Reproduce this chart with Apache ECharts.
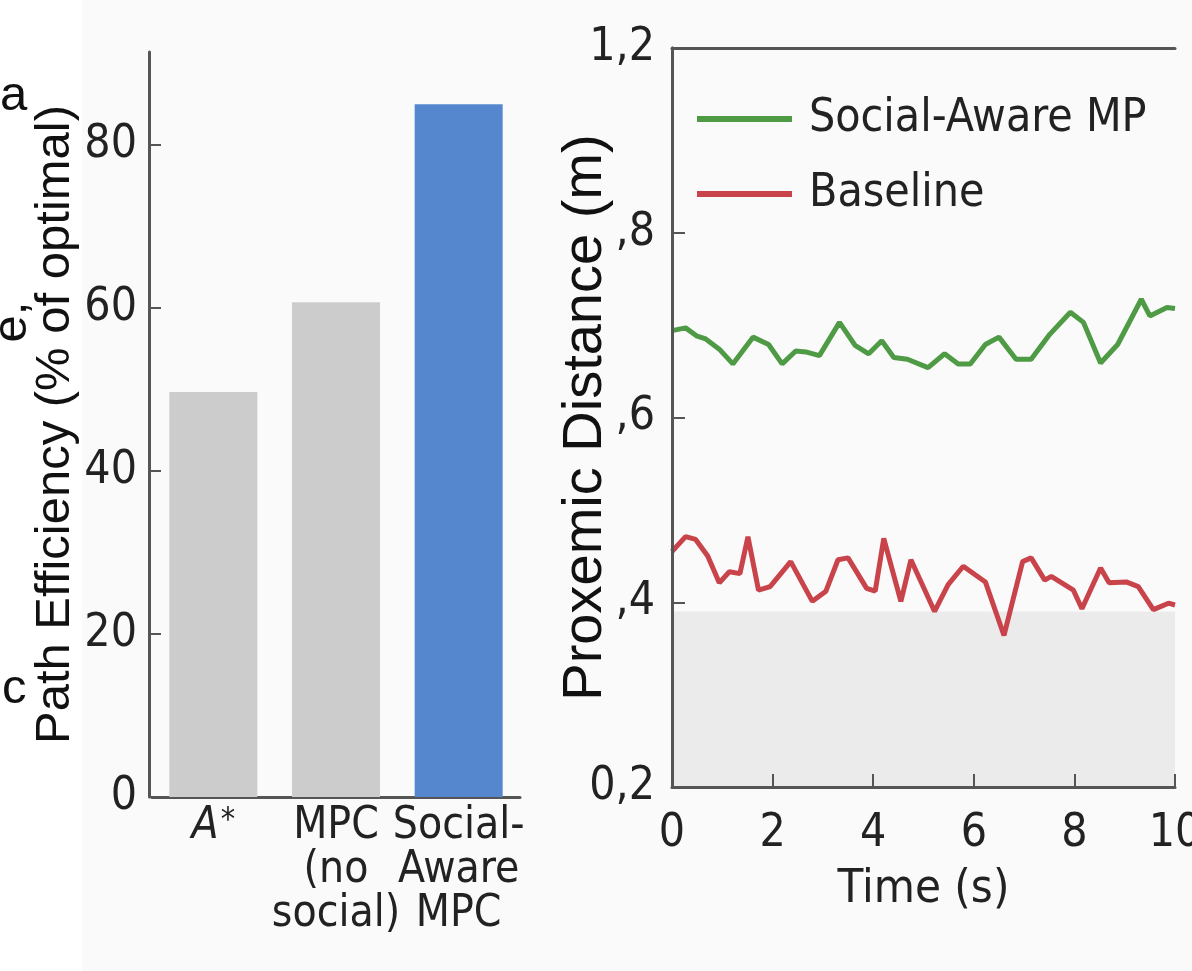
<!DOCTYPE html>
<html>
<head>
<meta charset="utf-8">
<script src="https://cdn.jsdelivr.net/npm/echarts@6/dist/echarts.min.js"></script>
<style>
html,body{margin:0;padding:0;background:#ffffff;}
#chart{width:1192px;height:971px;}
</style>
</head>
<body>
<div id="chart"></div>
<script>
// ---- Data ----
const barCategories = ['A*', 'MPC\n(no\nsocial)', 'Social-\nAware\nMPC'];
const barValues = [49.7, 60.7, 85.0];
const barColors = ['#cccccc', '#cccccc', '#5487ce'];
const barTickValues = [0, 20, 40, 60, 80];

const socialTime = [0, 0.27, 0.5, 0.67, 0.94, 1.21, 1.61, 1.92, 2.19, 2.46, 2.66, 2.93, 3.33, 3.64, 3.91, 4.17, 4.41, 4.68, 5.09, 5.42, 5.69, 5.93, 6.23, 6.5, 6.84, 7.14, 7.51, 7.92, 8.18, 8.52, 8.86, 9.33, 9.5, 9.84, 10];
const socialDist = [0.694, 0.697, 0.688, 0.685, 0.674, 0.658, 0.687, 0.679, 0.658, 0.672, 0.671, 0.667, 0.703, 0.678, 0.669, 0.683, 0.665, 0.663, 0.654, 0.669, 0.658, 0.658, 0.679, 0.687, 0.663, 0.663, 0.690, 0.714, 0.703, 0.659, 0.679, 0.728, 0.710, 0.719, 0.718];

const baseTime = [0, 0.27, 0.47, 0.71, 0.94, 1.14, 1.35, 1.51, 1.72, 1.95, 2.36, 2.79, 3.06, 3.30, 3.50, 3.87, 4.04, 4.21, 4.55, 4.75, 5.22, 5.49, 5.79, 6.23, 6.60, 6.97, 7.14, 7.41, 7.54, 7.98, 8.15, 8.52, 8.69, 9.03, 9.27, 9.57, 9.87, 10];
const baseDist = [0.455, 0.471, 0.468, 0.450, 0.421, 0.433, 0.431, 0.471, 0.413, 0.417, 0.444, 0.401, 0.412, 0.446, 0.448, 0.415, 0.412, 0.469, 0.401, 0.446, 0.390, 0.419, 0.439, 0.422, 0.364, 0.444, 0.448, 0.424, 0.428, 0.413, 0.393, 0.437, 0.421, 0.422, 0.417, 0.392, 0.399, 0.397];

const lineYTickValues = [0.2, 0.4, 0.6, 0.8, 1.0];
const lineYTickLabels = ['0,2', ',4', ',6', ',8', '1,2'];
const comfortBand = [0.2, 0.39];

const seriesNames = ['Social-Aware MP', 'Baseline'];

// ---- Styles ----
const COND = '"Liberation Sans Narrow", "DejaVu Sans Condensed", "Roboto Condensed", "Liberation Sans", sans-serif';
const SANS = '"Liberation Sans", Arial, sans-serif';
const AX = '#555555';

const chart = echarts.init(document.getElementById('chart'), null, {renderer: 'canvas'});

function zip(a, b) { return a.map((v, i) => [v, b[i]]); }

const option = {
  backgroundColor: '#ffffff',
  animation: false,
  grid: [
    {left: 152, top: 52, width: 368, height: 745, outerBoundsMode: 'none', containLabel: false},
    {left: 672, top: 48, width: 503, height: 739, outerBoundsMode: 'none', containLabel: false}
  ],
  legend: {
    orient: 'vertical',
    left: 692, top: 88,
    data: seriesNames,
    icon: 'rect',
    itemWidth: 95, itemHeight: 6, itemGap: 23,
    textStyle: {fontFamily: COND, fontSize: 46, color: '#222', lineHeight: 52, padding: [0, 0, 0, 12]}
  },
  xAxis: [
    {
      gridIndex: 0, type: 'category', data: barCategories,
      axisLine: {lineStyle: {color: AX, width: 3}},
      axisTick: {show: false},
      axisLabel: {
        interval: 0, margin: 8, color: '#222', fontFamily: COND, fontSize: 44, lineHeight: 44,
        formatter: function (v) {
          if (v === 'A*') return '{it|A}{sup|*}';
          return v;
        },
        rich: {
          it: {fontFamily: COND, fontSize: 44, fontStyle: 'italic', color: '#222', lineHeight: 44},
          sup: {fontFamily: COND, fontSize: 32, color: '#222', lineHeight: 44, verticalAlign: 'top', padding: [0, 0, 10, 2]}
        }
      }
    },
    {
      gridIndex: 1, type: 'value', min: 0, max: 10, interval: 2, z: 10,
      name: 'Time (s)', nameLocation: 'middle', nameGap: 79, nameMoveOverlap: false,
      nameTextStyle: {fontFamily: COND, fontSize: 47, color: '#222', lineHeight: 47},
      axisLine: {show: true, lineStyle: {color: AX, width: 3}},
      axisTick: {show: true, inside: true, length: 13, lineStyle: {color: AX, width: 2}},
      axisLabel: {margin: 24, color: '#222', fontFamily: COND, fontSize: 46},
      splitLine: {show: false}
    },
    {
      gridIndex: 1, type: 'value', min: 0, max: 10, position: 'top', z: 10,
      axisLine: {show: true, lineStyle: {color: AX, width: 3}},
      axisTick: {show: false}, axisLabel: {show: false}, splitLine: {show: false}
    }
  ],
  yAxis: [
    {
      gridIndex: 0, type: 'value', min: 0, max: 91.4, offset: 3,
      name: 'Path Efficiency (% of optimal)', nameLocation: 'middle', nameGap: 69, nameMoveOverlap: false,
      nameTextStyle: {fontFamily: SANS, fontSize: 49, color: '#111', lineHeight: 49},
      axisLine: {show: true, lineStyle: {color: AX, width: 3}},
      axisTick: {show: true, inside: true, length: 12, lineStyle: {color: AX, width: 2}, customValues: barTickValues},
      axisLabel: {margin: 12, color: '#222', fontFamily: COND, fontSize: 46, customValues: barTickValues},
      splitLine: {show: false}
    },
    {
      gridIndex: 1, type: 'value', min: 0.2, max: 1.0, interval: 0.2, z: 10,
      name: 'Proxemic Distance (m)', nameLocation: 'middle', nameGap: 58, nameMoveOverlap: false,
      nameTextStyle: {fontFamily: SANS, fontSize: 56, color: '#111', lineHeight: 56},
      axisLine: {show: true, lineStyle: {color: AX, width: 3}},
      axisTick: {show: true, inside: true, length: 13, lineStyle: {color: AX, width: 2}},
      axisLabel: {
        margin: 17, color: '#222', fontFamily: COND, fontSize: 46,
        formatter: function (v) {
          let best = 0;
          lineYTickValues.forEach((t, i) => { if (Math.abs(t - v) < Math.abs(lineYTickValues[best] - v)) best = i; });
          return lineYTickLabels[best];
        }
      },
      splitLine: {show: false}
    },
    {
      gridIndex: 1, type: 'value', min: 0.2, max: 1.0, position: 'right', z: 10,
      axisLine: {show: true, lineStyle: {color: AX, width: 3}},
      axisTick: {show: false}, axisLabel: {show: false}, splitLine: {show: false}
    }
  ],
  series: [
    {
      type: 'bar', xAxisIndex: 0, yAxisIndex: 0,
      barWidth: 88,
      data: barValues.map((v, i) => ({value: v, itemStyle: {color: barColors[i]}}))
    },
    {
      name: seriesNames[0], type: 'line', xAxisIndex: 1, yAxisIndex: 1,
      data: zip(socialTime, socialDist), showSymbol: false, symbol: 'none',
      lineStyle: {color: '#4e9a45', width: 5}, itemStyle: {color: '#4e9a45'},
      markArea: {
        silent: true,
        itemStyle: {color: '#ebebeb'},
        data: [[{yAxis: comfortBand[0]}, {yAxis: comfortBand[1]}]]
      },
      z: 3
    },
    {
      name: seriesNames[1], type: 'line', xAxisIndex: 1, yAxisIndex: 1,
      data: zip(baseTime, baseDist), showSymbol: false, symbol: 'none',
      lineStyle: {color: '#c9434a', width: 5}, itemStyle: {color: '#c9434a'},
      z: 3
    }
  ],
  graphic: [
    {type: 'rect', z: -10, silent: true, shape: {x: 82, y: 0, width: 1110, height: 971}, style: {fill: '#fafafa'}},
    {type: 'text', x: 0, y: 96, style: {text: 'a', fontFamily: SANS, fontSize: 49, fill: '#111', textAlign: 'left', textVerticalAlign: 'middle'}},
    {type: 'text', x: 12, y: 322, rotation: Math.PI / 2, style: {text: 'e,', fontFamily: SANS, fontSize: 49, fill: '#111', textAlign: 'center', textVerticalAlign: 'middle'}},
    {type: 'text', x: 2, y: 689, style: {text: 'c', fontFamily: SANS, fontSize: 49, fill: '#111', textAlign: 'left', textVerticalAlign: 'middle'}}
  ]
};
chart.setOption(option);
</script>
</body>
</html>
